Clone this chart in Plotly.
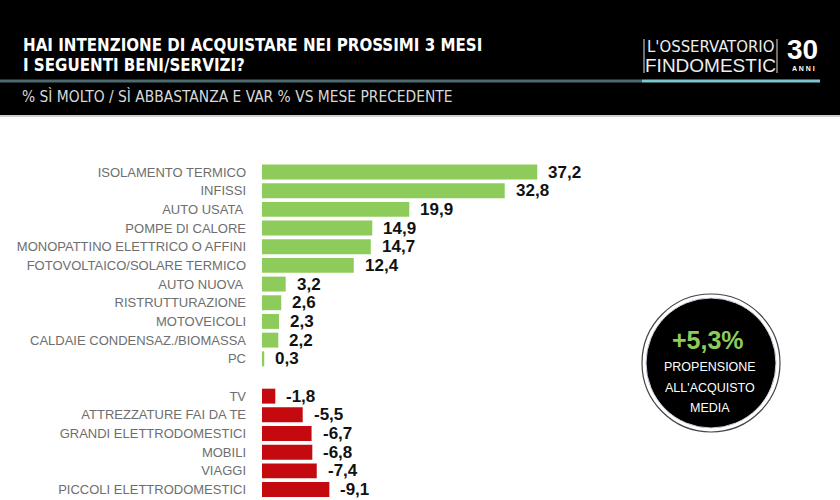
import plotly.graph_objects as go

W, H = 840, 500

green_labels = ["ISOLAMENTO TERMICO", "INFISSI", "AUTO USATA ", "POMPE DI CALORE",
                "MONOPATTINO ELETTRICO O AFFINI", "FOTOVOLTAICO/SOLARE TERMICO",
                "AUTO NUOVA ", "RISTRUTTURAZIONE", "MOTOVEICOLI",
                "CALDAIE CONDENSAZ./BIOMASSA", "PC"]
green_values = [37.2, 32.8, 19.9, 14.9, 14.7, 12.4, 3.2, 2.6, 2.3, 2.2, 0.3]

red_labels = ["TV", "ATTREZZATURE FAI DA TE", "GRANDI ELETTRODOMESTICI", "MOBILI",
              "VIAGGI", "PICCOLI ELETTRODOMESTICI"]
red_values = [-1.8, -5.5, -6.7, -6.8, -7.4, -9.1]

title_lines = ["HAI INTENZIONE DI ACQUISTARE NEI PROSSIMI 3 MESI", "I SEGUENTI BENI/SERVIZI?"]
subtitle = "% SÌ MOLTO / SÌ ABBASTANZA E VAR % VS MESE PRECEDENTE"
badge_value = "+5,3%"
badge_lines = ["PROPENSIONE", "ALL'ACQUISTO", "MEDIA"]

GREEN = "#8dcc5a"
RED = "#c40a0f"

def fx(px):
    return px / W

def fy(py):
    return 1 - py / H

def fmt(v):
    return f"{v:.1f}".replace(".", ",")

green_pos = list(range(len(green_labels)))
red_pos = [len(green_labels) + 1 + i for i in range(len(red_labels))]

fig = go.Figure()
fig.add_trace(go.Bar(y=green_pos, x=green_values, orientation="h",
                     marker=dict(color=GREEN, line=dict(width=0)), width=0.8,
                     hoverinfo="skip"))
fig.add_trace(go.Bar(y=red_pos, x=[abs(v) for v in red_values], orientation="h",
                     marker=dict(color=RED, line=dict(width=0)), width=0.8,
                     hoverinfo="skip"))

sans = "Liberation Sans, Arial, sans-serif"
narrow = "Liberation Sans Narrow, DejaVu Sans Condensed, Arial Narrow, sans-serif"

annotations = []
for p, v in zip(green_pos, green_values):
    annotations.append(dict(x=v, y=p, xref="x", yref="y", text=fmt(v), showarrow=False,
                            xanchor="left", yanchor="middle", xshift=9,
                            font=dict(family=sans, size=17, color="#111111", weight="bold")))
for p, v in zip(red_pos, red_values):
    annotations.append(dict(x=abs(v), y=p, xref="x", yref="y", text=fmt(v), showarrow=False,
                            xanchor="left", yanchor="middle", xshift=9,
                            font=dict(family=sans, size=17, color="#111111", weight="bold")))

# Header texts
for i, line in enumerate(title_lines):
    annotations.append(dict(x=fx(21), y=fy(45 + 20 * i), xref="paper", yref="paper",
                            text=line, showarrow=False, xanchor="left", yanchor="middle",
                            font=dict(family=narrow, size=16.8, color="white", weight="bold")))
annotations.append(dict(x=fx(20), y=fy(97), xref="paper", yref="paper", text=subtitle,
                        showarrow=False, xanchor="left", yanchor="middle",
                        font=dict(family=narrow, size=15.4, color="#d8d8d8")))
# Logo
annotations.append(dict(x=fx(710), y=fy(47), xref="paper", yref="paper", text="L'OSSERVATORIO",
                        showarrow=False, xanchor="center", yanchor="middle",
                        font=dict(family=narrow, size=16.6, color="#eeeeee")))
annotations.append(dict(x=fx(710), y=fy(65), xref="paper", yref="paper", text="FINDOMESTIC",
                        showarrow=False, xanchor="center", yanchor="middle",
                        font=dict(family=sans, size=19, color="#eeeeee", weight=300)))
annotations.append(dict(x=fx(802), y=fy(50), xref="paper", yref="paper", text="30",
                        showarrow=False, xanchor="center", yanchor="middle",
                        font=dict(family=sans, size=28, color="white", weight="bold")))
annotations.append(dict(x=fx(803), y=fy(68), xref="paper", yref="paper", text="A N N I",
                        showarrow=False, xanchor="center", yanchor="middle",
                        font=dict(family=sans, size=7, color="white", weight="bold")))
# Badge
annotations.append(dict(x=fx(708), y=fy(340), xref="paper", yref="paper", text=badge_value,
                        showarrow=False, xanchor="center", yanchor="middle",
                        font=dict(family=sans, size=25, color=GREEN, weight="bold")))
for i, line in enumerate(badge_lines):
    annotations.append(dict(x=fx(710), y=fy(367 + 20.5 * i), xref="paper", yref="paper",
                            text=line, showarrow=False, xanchor="center", yanchor="middle",
                            font=dict(family=sans, size=12.5, color="white")))

shapes = [
    dict(type="rect", xref="paper", yref="paper", x0=0, x1=1, y0=fy(115), y1=1,
         fillcolor="black", line=dict(width=0), layer="below"),
    dict(type="rect", xref="paper", yref="paper", x0=0, x1=1, y0=fy(117), y1=fy(115),
         fillcolor="#cfcfcf", line=dict(width=0), layer="below"),
    dict(type="line", xref="paper", yref="paper", x0=0, x1=fx(642), y0=fy(81), y1=fy(81),
         line=dict(color="#4d6a6e", width=3)),
    dict(type="line", xref="paper", yref="paper", x0=fx(642), x1=fx(820), y0=fy(81), y1=fy(81),
         line=dict(color="#7cc7cf", width=3)),
    dict(type="line", xref="paper", yref="paper", x0=fx(644), x1=fx(644), y0=fy(39), y1=fy(73),
         line=dict(color="#dddddd", width=1)),
    dict(type="line", xref="paper", yref="paper", x0=fx(777), x1=fx(777), y0=fy(39), y1=fy(73),
         line=dict(color="#dddddd", width=1)),
    dict(type="circle", xref="paper", yref="paper", x0=fx(642), x1=fx(780), y0=fy(432), y1=fy(294),
         fillcolor="white", line=dict(color="#444444", width=1.2)),
    dict(type="circle", xref="paper", yref="paper", x0=fx(646), x1=fx(776), y0=fy(428), y1=fy(298),
         fillcolor="black", line=dict(color="#cfd6e6", width=1)),
]

fig.update_layout(
    width=W, height=H,
    margin=dict(l=0, r=0, t=0, b=0),
    paper_bgcolor="white", plot_bgcolor="white",
    showlegend=False, barmode="overlay",
    xaxis=dict(domain=[fx(262), 1], range=[0, (W - 262) / 7.4], showgrid=False,
               zeroline=False, showticklabels=False, showline=False, fixedrange=True),
    yaxis=dict(domain=[0, fy(150)], range=[17.56, -1.178], showgrid=False, zeroline=False,
               showline=False, tickmode="array", tickvals=green_pos + red_pos,
               ticktext=green_labels + red_labels, ticks="", ticklabelstandoff=15,
               tickfont=dict(family=sans, size=13, color="#6e6e6e")),
    annotations=annotations,
    shapes=shapes,
)

fig.write_html("out.html")
